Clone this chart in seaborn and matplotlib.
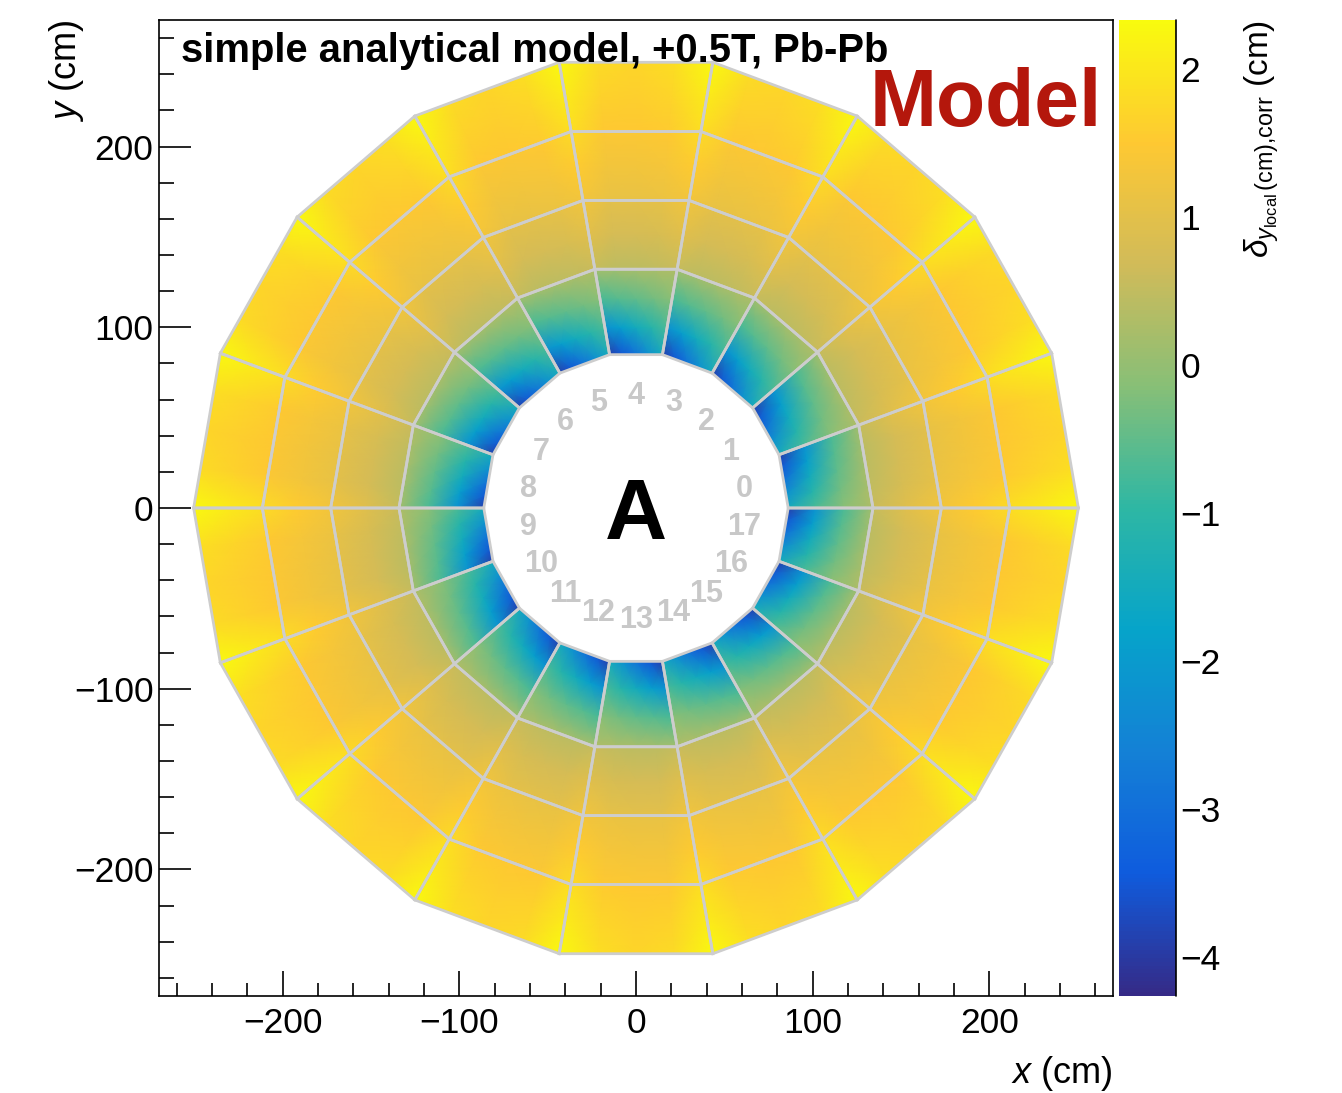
import numpy as np
import matplotlib
matplotlib.use("Agg")
import matplotlib.pyplot as plt
import seaborn as sns
from matplotlib.colors import Normalize
from matplotlib.cm import ScalarMappable
from matplotlib.ticker import MultipleLocator

sns.set_style("ticks")
plt.rcParams["font.family"] = ["Liberation Sans", "DejaVu Sans"]
plt.rcParams["mathtext.fontset"] = "custom"
plt.rcParams["mathtext.rm"] = "Liberation Sans"
plt.rcParams["mathtext.it"] = "Liberation Sans:italic"
plt.rcParams["mathtext.bf"] = "Liberation Sans:bold"
for key in ["text.color", "axes.labelcolor", "xtick.color", "ytick.color",
            "axes.edgecolor"]:
    plt.rcParams[key] = "black"

# ---------------------------------------------------------------- data
sector_ids = list(range(18))
sector_labels = [str(s) for s in sector_ids]

# position across a sector: -1 at the lower-phi edge, +1 at the upper-phi edge
local_y_frac = [-1.0, -0.5, 0.0, 0.5, 1.0]

# local x (cm) of the value nodes in each readout chamber
iroc_radius = [84.85, 100.0, 116.0, 132.1]
oroc1_radius = [132.1, 151.0, 170.2]
oroc2_radius = [170.2, 189.0, 208.3]
oroc3_radius = [208.3, 228.0, 246.6]

# delta y_local (cm) at the nodes, rows = radius, columns = local_y_frac
iroc_dy = [
    [-1.5, -2.2, -2.9, -3.5, -3.9],
    [-0.7, -1.1, -1.5, -1.9, -2.2],
    [-0.1, -0.3, -0.5, -0.6, -0.7],
    [0.30, 0.25, 0.20, 0.15, 0.15],
]
oroc1_dy = [
    [0.60, 0.50, 0.45, 0.45, 0.55],
    [0.95, 0.80, 0.75, 0.75, 0.95],
    [1.25, 1.05, 1.00, 1.00, 1.25],
]
oroc2_dy = [
    [1.30, 1.15, 1.10, 1.10, 1.30],
    [1.55, 1.35, 1.30, 1.30, 1.55],
    [1.80, 1.50, 1.45, 1.45, 1.80],
]
oroc3_dy = [
    [1.85, 1.55, 1.50, 1.50, 1.85],
    [2.05, 1.70, 1.60, 1.65, 2.05],
    [2.30, 1.85, 1.70, 1.80, 2.30],
]

z_min, z_max = -4.26, 2.33
cbar_ticks = [-4, -3, -2, -1, 0, 1, 2]
axis_major = [-200, -100, 0, 100, 200]

# ROOT "bird" palette
bird_colors = [
    (0.2082, 0.1664, 0.5293), (0.0592, 0.3599, 0.8684), (0.0780, 0.5041, 0.8385),
    (0.0232, 0.6419, 0.7914), (0.1802, 0.7178, 0.6425), (0.5301, 0.7492, 0.4662),
    (0.8186, 0.7328, 0.3499), (0.9956, 0.7862, 0.1968), (0.9764, 0.9832, 0.0539),
]
cmap = sns.blend_palette(bird_colors, as_cmap=True)
norm = Normalize(z_min, z_max)

# ---------------------------------------------------------------- figure
W, H = 1342, 1093
fig = plt.figure(figsize=(W / 100, H / 100), dpi=100)
ax = fig.add_axes([159 / W, 1 - 996 / H, (1113 - 159) / W, (996 - 20) / H])
cax = fig.add_axes([1119 / W, 1 - 996 / H, 57 / W, (996 - 20) / H])

half_open = np.tan(np.deg2rad(10.0))
u = np.array(local_y_frac)
chambers = [
    (iroc_radius, iroc_dy),
    (oroc1_radius, oroc1_dy),
    (oroc2_radius, oroc2_dy),
    (oroc3_radius, oroc3_dy),
]
edge_col = "#cdcdcd"

for s in sector_ids:
    phi = np.deg2rad(20.0 * s + 10.0)
    c, sn = np.cos(phi), np.sin(phi)
    for radii, vals in chambers:
        lx = np.array(radii)[:, None]
        ly = lx * half_open * u[None, :]
        X = lx * c - ly * sn
        Y = lx * sn + ly * c
        ax.pcolormesh(X, Y, np.array(vals), cmap=cmap, norm=norm,
                      shading="gouraud", zorder=1)
        r0, r1 = radii[0], radii[-1]
        px = np.array([r0, r0, r1, r1])
        py = np.array([-r0, r0, r1, -r1]) * half_open
        ax.fill(px * c - py * sn, px * sn + py * c, fill=False,
                edgecolor=edge_col, lw=2.0, joinstyle="miter", zorder=2)
    # sector number
    ax.text(62 * c, 62 * sn, sector_labels[s], ha="center", va="center",
            fontsize=22, fontweight="bold", color="#c8c8c8", zorder=3)

ax.set_xlim(-270, 270)
ax.set_ylim(-270, 270)
ax.set_xticks(axis_major)
ax.set_yticks(axis_major)
ax.xaxis.set_minor_locator(MultipleLocator(20))
ax.yaxis.set_minor_locator(MultipleLocator(20))
ax.tick_params(axis="x", which="major", direction="in", length=18, width=1.2,
               labelsize=25.5, pad=8, top=False)
ax.tick_params(axis="x", which="minor", direction="in", length=9.5, width=1.2, top=False)
ax.tick_params(axis="y", which="major", direction="in", length=23, width=1.2,
               labelsize=25.5, pad=4, right=False)
ax.tick_params(axis="y", which="minor", direction="in", length=11, width=1.2, right=False)
for sp in ax.spines.values():
    sp.set_linewidth(1.2)
    sp.set_color("black")

# texts
fig.text(181 / W, 1 - 62 / H, "simple analytical model, +0.5T, Pb-Pb",
         fontsize=28.8, fontweight="bold", ha="left", va="baseline")
fig.text(870 / W, 1 - 126 / H, "Model", fontsize=58, fontweight="bold",
         color="#b4170c", ha="left", va="baseline")
ax.text(0, -17.2, "A", fontsize=62, fontweight="bold", ha="center", va="baseline",
        zorder=3)
fig.text(1113 / W, 1 - 1083 / H, r"$x$ (cm)", fontsize=26, ha="right", va="baseline")
fig.text(67 / W, 1 - 20 / H, r"$y$ (cm)", fontsize=26, rotation=90,
         ha="center", va="top")

# colour bar
sm = ScalarMappable(norm=norm, cmap=cmap)
cbar = fig.colorbar(sm, cax=cax, ticks=cbar_ticks)
cbar.outline.set_visible(False)
cax.tick_params(direction="in", length=24, width=1.2, labelsize=25.5, pad=3,
                color="black")
cax.plot([1, 1], [0, 1], transform=cax.transAxes, color="black", lw=1.2,
         clip_on=False)
fig.text(1262 / W, 1 - 20 / H,
         r"$\delta_{y_{\mathrm{local}}\,\mathrm{(cm){,}corr}}$ (cm)",
         fontsize=24, rotation=90, ha="center", va="top")

fig.savefig("out.png", dpi=100)
